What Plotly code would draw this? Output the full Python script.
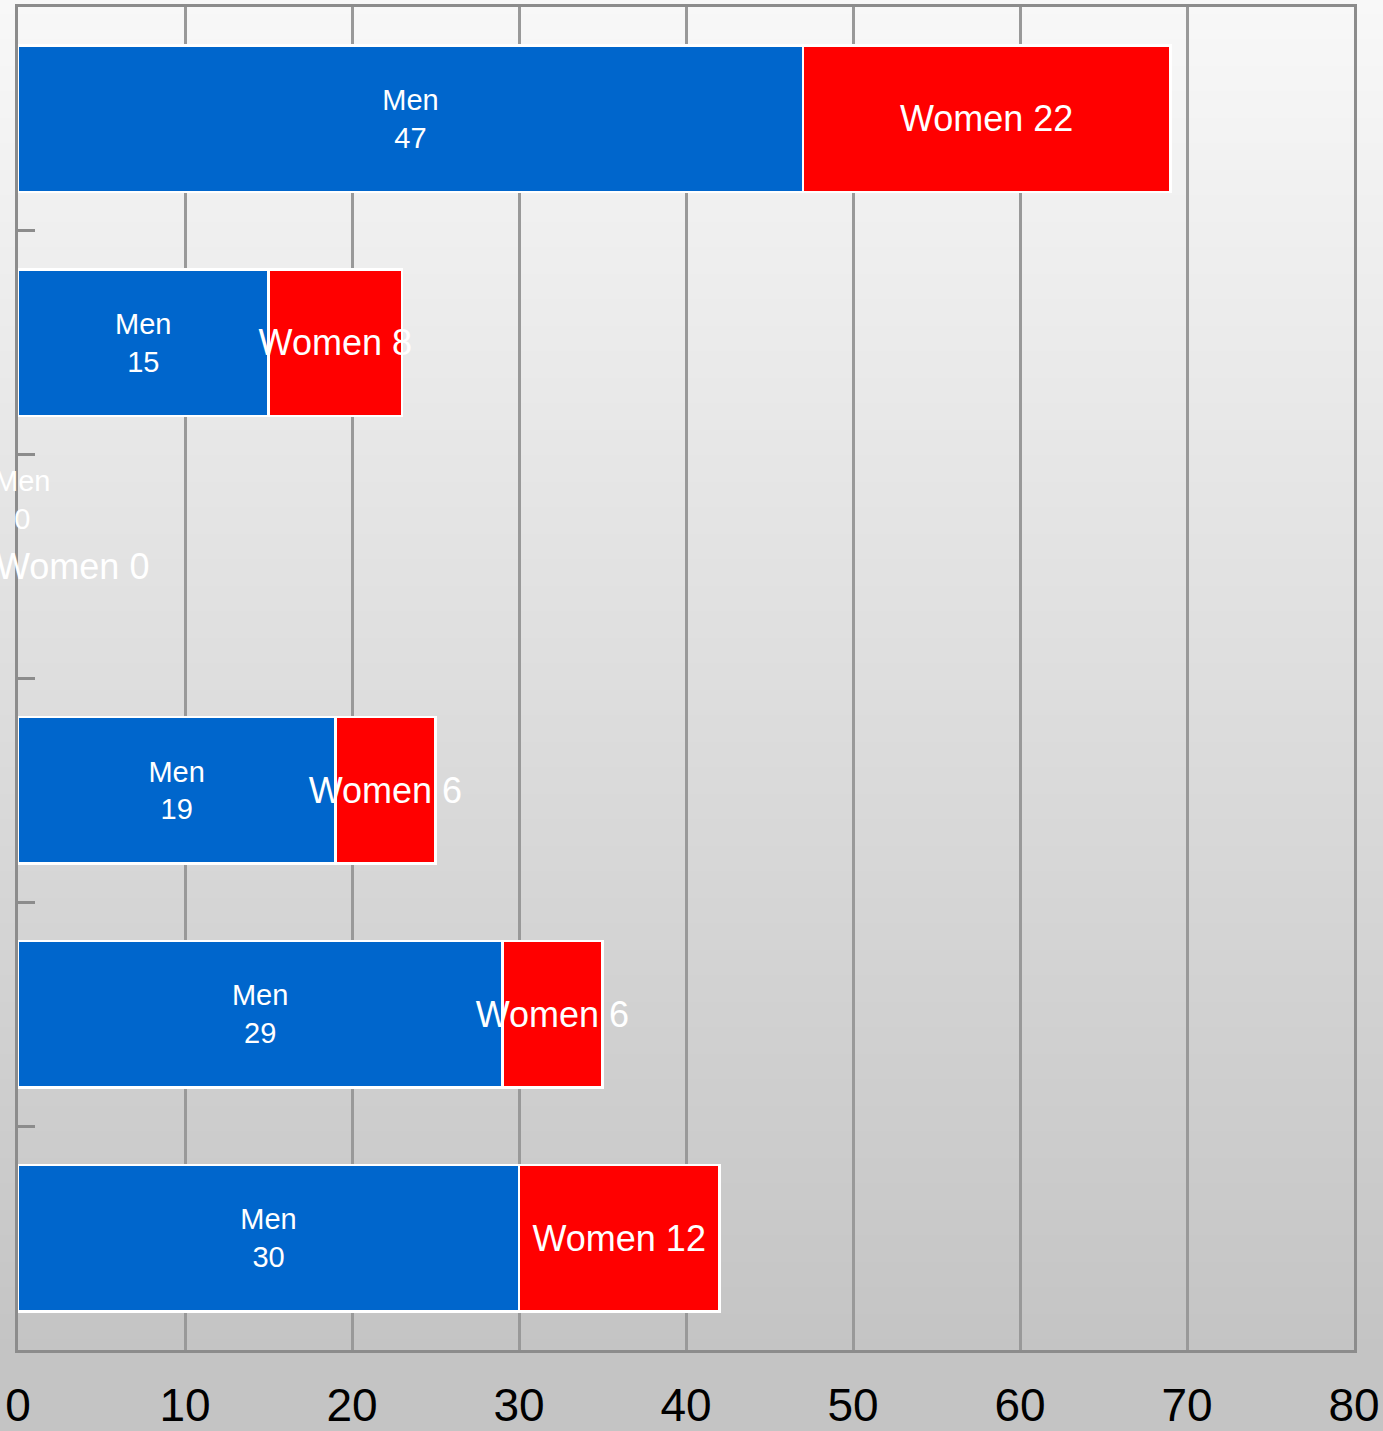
import base64
import struct
import zlib

import plotly.graph_objects as go

# ---------------- data ----------------
groups = ["Group 1", "Group 2", "Group 3", "Group 4", "Group 5", "Group 6"]
men = [47, 15, 0, 19, 29, 30]
women = [22, 8, 0, 6, 6, 12]
x_ticks = [0, 10, 20, 30, 40, 50, 60, 70, 80]

# ---------------- layout constants ----------------
W, H = 1383, 1431
ML, MR, MT, MB = 18, 29, 7, 81
PW, PH = W - ML - MR, H - MT - MB

FONT = "Liberation Sans, Arial, sans-serif"
BLUE = "#0066CC"
RED = "#FF0000"


def gradient_png(height, top=248, bottom=196, stop=1352):
    rows = b""
    for i in range(height):
        t = min(i / stop, 1.0)
        v = int(round(top + (bottom - top) * t))
        rows += b"\x00" + bytes([v])

    def chunk(tag, data):
        c = struct.pack(">I", len(data)) + tag + data
        return c + struct.pack(">I", zlib.crc32(tag + data) & 0xFFFFFFFF)

    png = b"\x89PNG\r\n\x1a\n"
    png += chunk(b"IHDR", struct.pack(">IIBBBBB", 1, height, 8, 0, 0, 0, 0))
    png += chunk(b"IDAT", zlib.compress(rows))
    png += chunk(b"IEND", b"")
    return "data:image/png;base64," + base64.b64encode(png).decode()


fig = go.Figure()

fig.add_trace(go.Bar(
    y=groups, x=men, orientation="h", name="Men",
    marker=dict(color=BLUE, line=dict(color="white",
                                      width=[2.5 if v else 0 for v in men])),
    text=[f"Men<br>{v}" for v in men],
    textposition="inside", insidetextanchor="middle", constraintext="none",
    textangle=0,
    textfont=dict(family=FONT, size=29, color="white"),
))
fig.add_trace(go.Bar(
    y=groups, x=women, orientation="h", name="Women",
    marker=dict(color=RED, line=dict(color="white",
                                     width=[2.5 if v else 0 for v in women])),
    text=[f"Women {v}" for v in women],
    textposition="inside", insidetextanchor="middle", constraintext="none",
    textangle=0,
    textfont=dict(family=FONT, size=36, color="white"),
))

# labels for zero-length bars (plotly hides inside text on empty bars)
annotations = []
for g, m, w in zip(groups, men, women):
    if m == 0:
        annotations.append(dict(
            x=m, y=g, xref="x", yref="y", text=f"Men<br>{m}", showarrow=False,
            xanchor="center", yanchor="middle", xshift=4, yshift=67,
            font=dict(family=FONT, size=29, color="white"),
        ))
    if w == 0:
        annotations.append(dict(
            x=m + w, y=g, xref="x", yref="y", text=f"Women {w}", showarrow=False,
            xanchor="left", yanchor="middle", xshift=-24, yshift=0,
            font=dict(family=FONT, size=36, color="white"),
        ))

fig.update_layout(
    width=W, height=H,
    margin=dict(l=ML, r=MR, t=MT, b=MB, pad=0, autoexpand=False),
    barmode="stack",
    bargap=0.345,
    showlegend=False,
    paper_bgcolor="#c4c4c4",
    plot_bgcolor="rgba(0,0,0,0)",
    font=dict(family=FONT),
    annotations=annotations,
    images=[dict(
        source=gradient_png(H),
        xref="paper", yref="paper",
        x=-ML / PW, y=1 + MT / PH,
        sizex=W / PW, sizey=H / PH,
        xanchor="left", yanchor="top",
        sizing="stretch", layer="below",
    )],
    xaxis=dict(
        range=[0, 80],
        tickvals=x_ticks,
        ticktext=[str(v) for v in x_ticks],
        tickfont=dict(family=FONT, size=46, color="black"),
        ticklabelstandoff=13,
        automargin=False,
        showgrid=True, gridcolor="#999999", gridwidth=3,
        zeroline=False,
        showline=True, linecolor="#8c8c8c", linewidth=3, mirror=True,
        ticks="",
    ),
    yaxis=dict(
        type="category",
        categoryorder="array", categoryarray=groups,
        autorange="reversed",
        automargin=False,
        showticklabels=False,
        showgrid=False, zeroline=False,
        showline=True, linecolor="#8c8c8c", linewidth=3, mirror=True,
        ticks="inside", tickson="boundaries", ticklen=17, tickwidth=3,
        tickcolor="#8c8c8c",
    ),
)

fig.write_html(
    "out.html",
    config={"displayModeBar": False},
    post_script="document.body.style.margin='0';document.body.style.overflow='hidden';",
)
